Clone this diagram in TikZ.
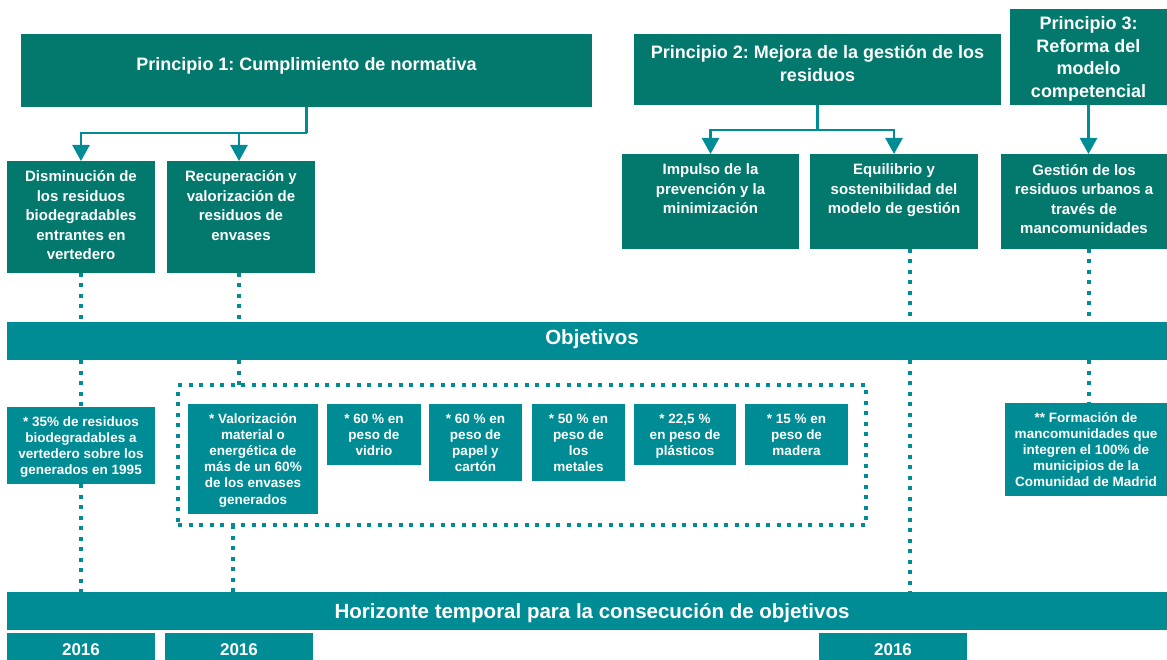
\documentclass[tikz,border=0pt]{standalone}
\usepackage{fontspec}
\setmainfont{Liberation Sans}
\usetikzlibrary{arrows.meta}
\frenchspacing
\definecolor{dkteal}{RGB}{3,121,110}
\definecolor{ltteal}{RGB}{0,140,148}
\newcommand\bx[4]{\parbox[c][#2][t]{#1}{\centering\vspace*{\dimexpr#3-0.8em\relax}\rule{0pt}{0.8em}#4}}
\tikzset{
 pbox/.style={fill=dkteal, text=white, inner sep=0pt, outer sep=0pt, font=\fontsize{18}{22.5}\selectfont\bfseries},
 sbox/.style={fill=dkteal, text=white, inner sep=0pt, outer sep=0pt, font=\fontsize{15}{19.5}\selectfont\bfseries},
 obox/.style={fill=ltteal, text=white, inner sep=0pt, outer sep=0pt, font=\fontsize{13.5}{16.2}\selectfont\bfseries},
 bar/.style={fill=ltteal, text=white, inner sep=0pt, outer sep=0pt, font=\fontsize{20.5}{24}\selectfont\bfseries},
 yr/.style={fill=ltteal, text=white, inner sep=0pt, outer sep=0pt, font=\fontsize{17}{20}\selectfont\bfseries},
 link/.style={draw=ltteal, line width=2.5pt},
 arr/.style={link, -{Triangle[width=17pt,length=16pt]}},
 dots/.style={draw=ltteal, line width=4pt, dash pattern=on 4pt off 6.5pt},
 grpbox/.style={dots, inner sep=0pt, outer sep=0pt, minimum width=688pt, minimum height=140pt}
}
\begin{document}
\begin{tikzpicture}[x=1pt,y=-1pt]
\useasboundingbox (0,0) rectangle (1167,660);
% principles
\node[pbox] (P1) at (306.5,70.5) {\bx{571pt}{73pt}{37pt}{Principio 1: Cumplimiento de normativa}};
\node[pbox] (P2) at (817.5,69.5) {\bx{367pt}{71pt}{25pt}{Principio 2: Mejora de la gestión de los\\ residuos}};
\node[pbox] (P3) at (1088.5,57) {\bx{157pt}{96pt}{21pt}{Principio 3:\\ Reforma del\\ modelo\\ competencial}};
% lines of action
\node[sbox] (A) at (81,217) {\bx{148pt}{112pt}{21pt}{Disminución de\\ los residuos\\ biodegradables\\ entrantes en\\ vertedero}};
\node[sbox] (B) at (241,217) {\bx{148pt}{112pt}{21pt}{Recuperación y\\ valorización de\\ residuos de\\ envases}};
\node[sbox] (C) at (710.5,201.5) {\bx{177pt}{95pt}{21pt}{Impulso de la\\ prevención y la\\ minimización}};
\node[sbox] (D) at (894,201.5) {\bx{168pt}{95pt}{21pt}{Equilibrio y\\ sostenibilidad del\\ modelo de gestión}};
\node[sbox] (E) at (1084,201.5) {\bx{166pt}{95pt}{21.5pt}{Gestión de los\\ residuos urbanos a\\ través de\\ mancomunidades}};
% bars
\node[bar] (obj) at (587,341) {\bx{1160pt}{38pt}{23pt}{\hspace*{10pt}Objetivos}};
\node[bar] (hor) at (587,611) {\bx{1160pt}{38pt}{26pt}{\hspace*{10pt}Horizonte temporal para la consecución de objetivos}};
% objectives
\node[obox] (p35) at (81,445.5) {\bx{148pt}{77pt}{19pt}{* 35\% de residuos\\ biodegradables a\\ vertedero sobre los\\ generados en 1995}};
\node[grpbox] (grp) at (522,455) {};
\node[obox] (V) at (253,459) {\bx{130pt}{110pt}{19pt}{* Valorización\\ material o\\ energética de\\ más de un 60\%\\ de los envases\\ generados}};
\node[obox] (vid) at (374,434.5) {\bx{94pt}{61pt}{19pt}{* 60 \% en\\ peso de\\ vidrio}};
\node[obox] (pap) at (475.5,442.5) {\bx{93pt}{77pt}{19pt}{* 60 \% en\\ peso de\\ papel y\\ cartón}};
\node[obox] (met) at (578.5,442.5) {\bx{93pt}{77pt}{19pt}{* 50 \% en\\ peso de\\ los\\ metales}};
\node[obox] (pla) at (685,434.5) {\bx{102pt}{61pt}{19pt}{* 22,5 \%\\ en peso de\\ plásticos}};
\node[obox] (mad) at (796.5,434.5) {\bx{103pt}{61pt}{19pt}{* 15 \% en\\ peso de\\ madera}};
\node[obox] (form) at (1086,449.5) {\bx{162pt}{93pt}{19pt}{** Formación de\\ mancomunidades que\\ integren el 100\% de\\ municipios de la\\ Comunidad de Madrid}};
% years
\node[yr] (y1) at (81,646.5) {\bx{148pt}{27pt}{22pt}{2016}};
\node[yr] (y2) at (239,646.5) {\bx{148pt}{27pt}{22pt}{2016}};
\node[yr] (y3) at (893,646.5) {\bx{148pt}{27pt}{22pt}{2016}};
% arrows
\draw[link] (P1.south) -- ++(0,26) coordinate (j1);
\draw[arr] (j1) -| (A.north);
\draw[arr] (j1) -| ([xshift=-2pt]B.north);
\draw[link] (P2.south) -- ++(0,25) coordinate (j2);
\draw[arr] (j2) -| (C.north);
\draw[arr] (j2) -| (D.north);
\draw[arr] (P3.south) -- (P3.south |- E.north);
% dotted connectors
\coordinate (bx) at ([xshift=-2pt]B.south);
\coordinate (dx) at ([xshift=16pt]D.south);
\coordinate (gx) at ([xshift=-289pt]grp.south);
\draw[dots] (A.south) -- (A.south |- obj.north);
\draw[dots] (bx) -- (bx |- obj.north);
\draw[dots] (dx) -- (dx |- obj.north);
\draw[dots] (E.south -| P3.south) -- (obj.north -| P3.south);
\draw[dots] (obj.south -| A.south) -- (p35.north);
\draw[dots] (p35.south) -- (p35.south |- hor.north);
\draw[dots] (obj.south -| bx) -- (grp.north -| bx);
\draw[dots] (gx) -- (gx |- hor.north);
\draw[dots] (obj.south -| dx) -- (hor.north -| dx);
\draw[dots] (obj.south -| P3.south) -- (form.north -| P3.south);
\end{tikzpicture}
\end{document}
